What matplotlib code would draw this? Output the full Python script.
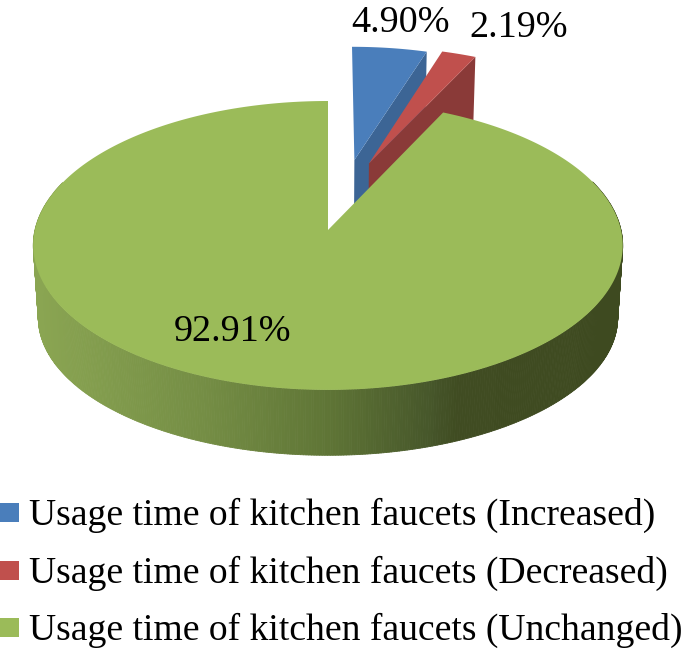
import numpy as np
import matplotlib.pyplot as plt
from matplotlib.collections import PolyCollection
from matplotlib.colors import LinearSegmentedColormap
from matplotlib.patches import Rectangle, Polygon

plt.rcParams['font.family'] = ['Liberation Serif', 'DejaVu Serif']

labels = ['Usage time of kitchen faucets (Increased)',
          'Usage time of kitchen faucets (Decreased)',
          'Usage time of kitchen faucets (Unchanged)']
values = [4.90, 2.19, 92.91]
value_labels = ['4.90%', '2.19%', '92.91%']
top_colors = ['#4a7ebb', '#c0504d', '#9bbb59']
wall_colors = ['#3c6595', '#8a3a38', '#5e7334']

# pie apex offsets in the pie's own plane (radius = 1)
offsets = [(0.095, 0.517), (0.147, 0.49), (0.0, 0.0)]
radii = [0.97, 1.0, 1.0]

# perspective set-up, in pixels
CX, CY = 328, 230
RX = 293
A, B = 142.8, 0.107
A_LOW, DROP = 136, 73
LOW_X = 0.983

rim = LinearSegmentedColormap.from_list('rim', [
    (0.0, '#8aa552'), (0.28, '#758e45'), (0.5, '#5f7536'),
    (0.68, '#46562a'), (0.72, '#404c22'), (1.0, '#3e4a20')])


def top_xy(x, y):
    d = 1 + B * y
    return CX + RX * x / d, CY - A * y / d


def low_xy(x, y):
    d = 1 + B * y
    return CX + LOW_X * RX * x / d, CY + DROP - A_LOW * y / d


def edge(start, stop, off, r=1.0, n=200):
    th = np.radians(np.linspace(start, stop, n))
    return off[0] + r * np.sin(th), off[1] + r * np.cos(th)


fig = plt.figure(figsize=(6.85, 6.51), dpi=100)
ax = fig.add_axes([0, 0, 1, 1])
ax.set_xlim(0, 685)
ax.set_ylim(651, 0)
ax.axis('off')

bounds = np.concatenate([[0], np.cumsum(values) / 100 * 360])

# the two small exploded slices, back to front
for i in range(2):
    ox, oy = offsets[i]
    stop = np.radians(bounds[i + 1])
    xc, yc = ox + radii[i] * np.sin(stop), oy + radii[i] * np.cos(stop)
    wall = [top_xy(ox, oy), top_xy(xc, yc), low_xy(xc, yc), low_xy(ox, oy)]
    ax.add_patch(Polygon(wall, closed=True, fc=wall_colors[i], ec='none'))
    ex, ey = edge(bounds[i], bounds[i + 1], offsets[i], radii[i])
    tx, ty = top_xy(ex, ey)
    ax_, ay_ = top_xy(ox, oy)
    ax.fill(np.r_[ax_, tx], np.r_[ay_, ty], fc=top_colors[i], ec='none')

# big slice: side wall shaded across x, then its top face
ex, ey = edge(bounds[2], bounds[3], offsets[2], n=700)
keep = ey < 0.35
ex, ey = ex[keep], ey[keep]
tx, ty = top_xy(ex, ey)
lx, ly = low_xy(ex, ey)
quads, shades = [], []
for j in range(len(ex) - 1):
    quads.append([(tx[j], ty[j]), (tx[j + 1], ty[j + 1]),
                  (lx[j + 1], ly[j + 1]), (lx[j], ly[j])])
    shades.append(rim(np.clip((tx[j] - 37) / 585, 0, 1)))
ax.add_collection(PolyCollection(quads, facecolors=shades, edgecolors=shades,
                                 linewidths=0.6))

ex, ey = edge(bounds[2], bounds[3], offsets[2], n=700)
tx, ty = top_xy(ex, ey)
ax.fill(np.r_[CX, tx], np.r_[CY, ty], fc=top_colors[2], ec='none')

# value labels
ax.text(401, 32, value_labels[0], fontsize=27.5, ha='center', va='baseline')
ax.text(519, 37, value_labels[1], fontsize=27.5, ha='center', va='baseline')
ax.text(233, 341, value_labels[2], fontsize=27.5, ha='center', va='baseline')

# legend
for i, (lab, col) in enumerate(zip(labels, top_colors)):
    y = 503 + 57.5 * i
    ax.add_patch(Rectangle((0, y), 19, 19, fc=col, ec='none'))
    ax.text(29, y + 22, lab, fontsize=27.1, ha='left', va='baseline')

fig.savefig('out.png', dpi=100)
